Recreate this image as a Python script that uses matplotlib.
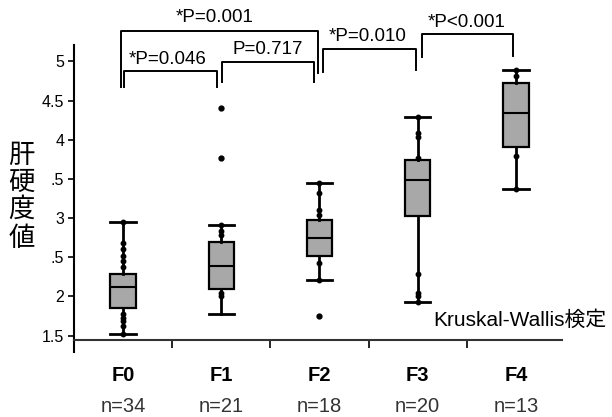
import matplotlib
matplotlib.use('Agg')
import matplotlib.pyplot as plt
import matplotlib.transforms as mtransforms

plt.rcParams['font.family'] = ['Liberation Sans', 'Noto Sans CJK JP', 'DejaVu Sans']

groups = ['F0', 'F1', 'F2', 'F3', 'F4']
counts = ['n=34', 'n=21', 'n=18', 'n=20', 'n=13']

whislo = [1.52, 1.77, 2.21, 1.93, 3.37]
q1 = [1.85, 2.10, 2.51, 3.02, 3.91]
med = [2.12, 2.39, 2.74, 3.49, 4.34]
q3 = [2.285, 2.70, 2.975, 3.74, 4.73]
whishi = [2.95, 2.91, 3.45, 4.29, 4.89]
outliers = [[], [3.77, 4.41], [1.75], [], []]

# small dots drawn on the whiskers
whisker_dots = [
    [2.95, 2.68, 2.60, 2.52, 2.45, 2.37, 1.78, 1.73, 1.68, 1.62, 1.52],
    [2.91, 2.84, 2.78, 2.04, 2.00],
    [3.45, 3.32, 3.10, 3.04, 2.42, 2.21],
    [4.29, 4.08, 4.03, 3.77, 2.28, 2.04, 2.00, 1.93],
    [4.89, 4.81, 3.79, 3.37],
]

yticks = [1.5, 2, 2.5, 3, 3.5, 4, 4.5, 5]
ytick_labels = ['1.5', '2', '.5', '3', '.5', '4', '4.5', '5']

# pairwise comparisons: (group a, group b, label)
comparisons = [(0, 2, '*P=0.001'), (0, 1, '*P=0.046'), (1, 2, 'P=0.717'),
               (2, 3, '*P=0.010'), (3, 4, '*P<0.001')]

fig = plt.figure(figsize=(6.12, 4.17), dpi=100)
ax = fig.add_axes([0.1209, 0.1847, 0.7974, 0.7074])

stats = []
for i in range(len(groups)):
    stats.append(dict(whislo=whislo[i], q1=q1[i], med=med[i], q3=q3[i],
                      whishi=whishi[i], fliers=outliers[i]))

pos = list(range(len(groups)))
ax.bxp(stats, positions=pos, widths=0.26, patch_artist=True,
       boxprops=dict(facecolor='#a8a8a8', edgecolor='black', linewidth=1.6),
       medianprops=dict(color='black', linewidth=1.5),
       whiskerprops=dict(color='black', linewidth=2),
       capprops=dict(color='black', linewidth=2),
       capwidths=0.26,
       flierprops=dict(marker='o', markerfacecolor='black', markeredgecolor='black',
                       markersize=3.5))

for i, dots in enumerate(whisker_dots):
    ax.plot([pos[i]] * len(dots), dots, 'o', color='black', markersize=3.2, zorder=3)

ax.set_xlim(-0.5, 4.47)
ax.set_ylim(1.443, 5.21)
ax.set_yticks(yticks)
ax.set_yticklabels(ytick_labels, fontsize=11.5)
ax.set_xticks([0.5, 1.5, 2.5, 3.5])
ax.set_xticklabels([])
ax.tick_params(axis='y', length=4, width=1.2, pad=3)
ax.tick_params(axis='x', length=6, width=1.2)
for s in ['top', 'right']:
    ax.spines[s].set_visible(False)
ax.spines['left'].set_linewidth(1.5)
ax.spines['bottom'].set_linewidth(1.5)
ax.spines['bottom'].set_color('#333333')
# left spine runs a little below the x axis
ax.plot([0, 0], [0, -0.04], transform=ax.transAxes, color='black', lw=1.5, clip_on=False)

# brackets: horizontal level and leg ends, in data units
bracket_geom = {
    (0, 2): (-0.023, 1.989, 5.389, 4.674, 4.853, 0.937, 5.555),
    (0, 1): (0.010, 0.957, 4.878, 4.674, 4.674, 0.458, 5.019),
    (1, 2): (1.008, 1.945, 4.993, 4.738, 4.738, 1.477, 5.147),
    (2, 3): (2.034, 2.984, 5.159, 4.866, 4.891, 2.495, 5.313),
    (3, 4): (3.042, 3.971, 5.351, 5.057, 5.070, 3.503, 5.492),
}
for a, b, label in comparisons:
    x1, x2, yt, yl, yr, tx, ty = bracket_geom[(a, b)]
    ax.plot([x1, x1, x2, x2], [yl, yt, yt, yr], color='black', lw=1.4, clip_on=False)
    ax.text(tx, ty, label, ha='center', va='center', fontsize=13.5, clip_on=False)

trans = mtransforms.blended_transform_factory(ax.transData, ax.transAxes)
for i in range(len(groups)):
    ax.text(pos[i], -0.122, groups[i], transform=trans, ha='center', va='center',
            fontsize=14.5, fontweight='bold')
    ax.text(pos[i], -0.224, counts[i], transform=trans, ha='center', va='center',
            fontsize=14.5, color='#333333')

fig.text(433 / 612, 1 - 320 / 417, 'Kruskal-Wallis検定', ha='left', va='center', fontsize=15)

ylabel = '肝硬度値'
ycent = [155.7, 182.3, 209.7, 238.3]
for ch, yc in zip(ylabel, ycent):
    fig.text(21.7 / 612, 1 - yc / 417, ch, ha='center', va='center', fontsize=19,
             family=['Noto Sans CJK JP'])

fig.savefig('out.png', dpi=100)
